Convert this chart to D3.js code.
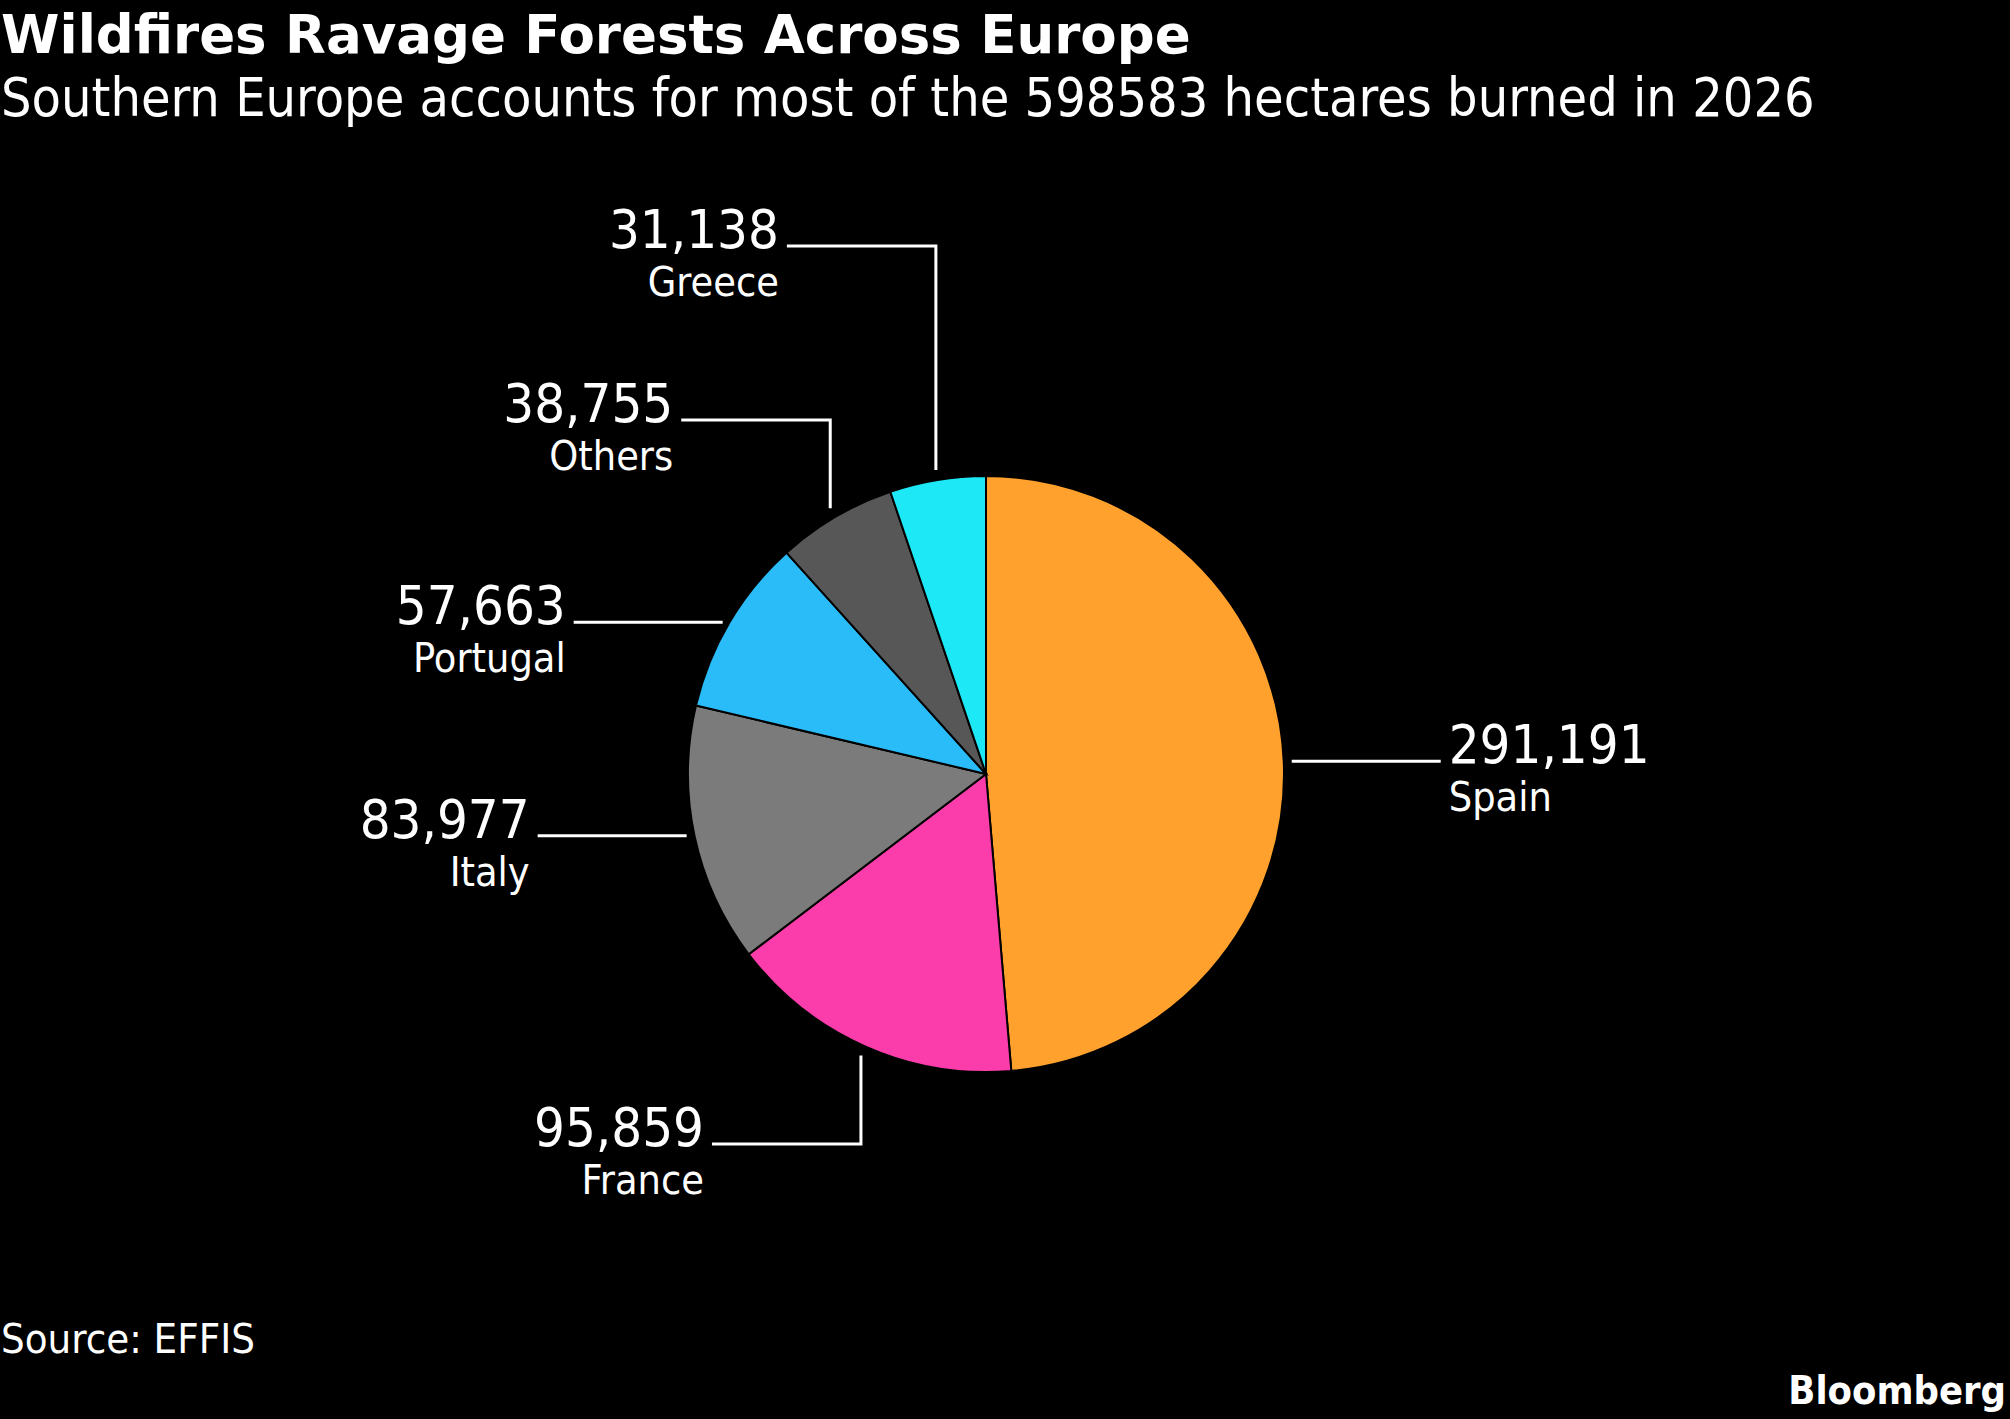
<!DOCTYPE html>
<html>
<head>
<meta charset="utf-8">
<script src="https://cdn.jsdelivr.net/npm/d3@7"></script>
<style>
  html, body { margin: 0; padding: 0; background: #000; }
  svg text { font-family: "DejaVu Sans Condensed", "DejaVu Sans", sans-serif; font-stretch: condensed; fill: #fff; }
  svg text.title { font-family: "DejaVu Sans", sans-serif; font-stretch: normal; }
</style>
</head>
<body>
<div class="container"></div>
<script>
// data (hectares burned)
var categories = ['Spain', 'France', 'Italy', 'Portugal', 'Others', 'Greece'];
var hectares = [291191, 95859, 83977, 57663, 38755, 31138];
var sliceColors = ['#FFA12C', '#FA3DAB', '#7B7B7B', '#2ABCF8', '#575757', '#1DE8F6'];

var w = 2010;
var h = 1419;

var data = categories.map(function(c, i) {
  return { name: c, value: hectares[i], color: sliceColors[i] };
});

var svg = d3.select('.container')
  .append('svg')
  .attr('width', w)
  .attr('height', h);

svg.append('rect').attr('width', w).attr('height', h).attr('fill', '#000');

/* Titles */
svg.append('text')
  .attr('class', 'title')
  .attr('x', 1).attr('y', 53)
  .attr('font-size', '53px')
  .attr('font-weight', 'bold')
  .text('Wildfires Ravage Forests Across Europe');

svg.append('text')
  .attr('x', 1).attr('y', 116)
  .attr('font-size', '53.5px')
  .text('Southern Europe accounts for most of the ' + d3.sum(hectares) + ' hectares burned in 2026');

/* Pie */
var cx = 986, cy = 774, r = 298;

var pie = d3.pie()
  .sort(null)
  .value(function(d) { return d.value; });

var arc = d3.arc().innerRadius(0).outerRadius(r);

var arcs = pie(data);

var g = svg.append('g')
  .attr('transform', 'translate(' + cx + ',' + cy + ')');

g.selectAll('path')
  .data(arcs)
  .enter()
  .append('path')
  .attr('d', arc)
  .attr('fill', function(d) { return d.data.color; })
  .attr('stroke', '#000')
  .attr('stroke-width', 2);

/* Labels: side labels get a straight leader, the rest an elbow */
// elbow height relative to pie (negative = above)
var elbowAt = { France: r + 72, Others: -(r + 56), Greece: -(r + 230) };
var leaderLen = 149;
var fmt = d3.format(',');

arcs.forEach(function(d) {
  var a = (d.startAngle + d.endAngle) / 2;
  var sx = Math.sin(a), sy = -Math.cos(a);
  var pts, tx, ty, anchor;

  if (elbowAt[d.data.name] !== undefined) {
    var x0 = (r + 10) * sx, y0 = (r + 10) * sy;
    var ye = elbowAt[d.data.name];
    pts = [[x0, y0], [x0, ye], [x0 - leaderLen, ye]];
    tx = x0 - leaderLen - 8; ty = ye; anchor = 'end';
  } else {
    var dir = sx >= 0 ? 1 : -1;
    var xs = (r + 8) * sx, ys = r * sy;
    pts = [[xs, ys], [xs + dir * leaderLen, ys]];
    tx = xs + dir * (leaderLen + 8); ty = ys; anchor = dir > 0 ? 'start' : 'end';
  }

  g.append('path')
    .attr('d', d3.line()(pts))
    .attr('fill', 'none')
    .attr('stroke', '#fff')
    .attr('stroke-width', 3);

  g.append('text')
    .attr('x', tx).attr('y', ty + 2)
    .attr('text-anchor', anchor)
    .attr('font-size', '54px')
    .text(fmt(d.data.value));

  g.append('text')
    .attr('x', tx).attr('y', ty + 50)
    .attr('text-anchor', anchor)
    .attr('font-size', '41px')
    .text(d.data.name);
});

/* Footer */
svg.append('text')
  .attr('x', 1).attr('y', 1353)
  .attr('font-size', '41.5px')
  .text('Source: EFFIS');

svg.append('text')
  .attr('x', 2006).attr('y', 1404)
  .attr('text-anchor', 'end')
  .attr('font-size', '39.5px')
  .attr('font-weight', 'bold')
  .text('Bloomberg');
</script>
</body>
</html>
